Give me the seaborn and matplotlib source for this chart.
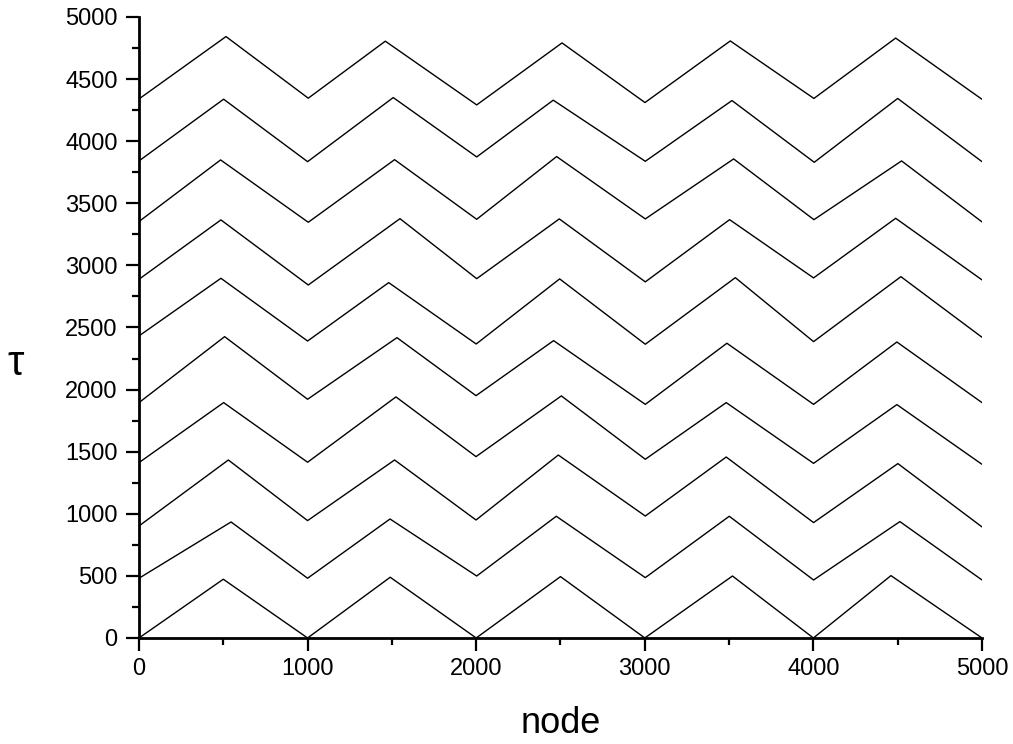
import numpy as np
import pandas as pd
import seaborn as sns
import matplotlib.pyplot as plt
from matplotlib.ticker import MultipleLocator

# vertices of each zigzag curve (node, tau), bottom curve first
node_0 = [0, 500, 1000, 1490, 2000, 2500, 3000, 3520, 4000, 4460, 5000]
tau_0 = [0, 473, 0, 489, 0, 494, 0, 499, 0, 502, 0]
node_1 = [0, 546, 1000, 1489, 2003, 2475, 3003, 3501, 4001, 4513, 5000]
tau_1 = [481, 934, 481, 958, 499, 980, 486, 980, 467, 937, 467]
node_2 = [0, 530, 1000, 1516, 1999, 2487, 3003, 3483, 4001, 4501, 5000]
tau_2 = [902, 1433, 945, 1433, 950, 1473, 982, 1457, 929, 1404, 894]
node_3 = [0, 502, 1000, 1524, 1999, 2505, 3003, 3483, 4001, 4495, 5000]
tau_3 = [1412, 1895, 1415, 1941, 1460, 1949, 1439, 1895, 1406, 1879, 1398]
node_4 = [0, 508, 1000, 1530, 1999, 2459, 3003, 3487, 4001, 4495, 5000]
tau_4 = [1895, 2426, 1922, 2418, 1951, 2394, 1881, 2373, 1881, 2383, 1895]
node_5 = [0, 486, 1000, 1481, 2000, 2495, 3003, 3537, 4001, 4519, 5000]
tau_5 = [2432, 2896, 2391, 2861, 2367, 2891, 2365, 2901, 2386, 2909, 2421]
node_6 = [0, 486, 1004, 1548, 2003, 2493, 3003, 3503, 4001, 4488, 5000]
tau_6 = [2888, 3366, 2842, 3376, 2893, 3374, 2867, 3368, 2899, 3379, 2883]
node_7 = [0, 484, 1004, 1516, 2003, 2477, 3003, 3527, 4003, 4523, 5000]
tau_7 = [3353, 3849, 3347, 3851, 3371, 3876, 3374, 3857, 3368, 3841, 3350]
node_8 = [0, 502, 1000, 1508, 2003, 2457, 3003, 3517, 4005, 4500, 5000]
tau_8 = [3841, 4338, 3835, 4351, 3873, 4330, 3838, 4327, 3830, 4344, 3835]
node_9 = [0, 516, 1004, 1461, 2003, 2509, 3001, 3507, 4003, 4488, 5000]
tau_9 = [4340, 4842, 4346, 4805, 4292, 4791, 4311, 4807, 4344, 4830, 4337]

nodes = [node_0, node_1, node_2, node_3, node_4, node_5, node_6, node_7, node_8, node_9]
taus = [tau_0, tau_1, tau_2, tau_3, tau_4, tau_5, tau_6, tau_7, tau_8, tau_9]

frames = []
for i, (n, t) in enumerate(zip(nodes, taus)):
    frames.append(pd.DataFrame({'node': n, 'tau': t, 'curve': i}))
df = pd.concat(frames, ignore_index=True)

sns.set_style('ticks')
plt.rcParams['font.family'] = ['Liberation Sans', 'DejaVu Sans']
plt.rcParams['text.color'] = 'black'
plt.rcParams['axes.labelcolor'] = 'black'

fig = plt.figure(figsize=(10.13, 7.44), dpi=100)
ax = fig.add_axes([0.1372, 0.1425, 0.8322, 0.8347])

sns.lineplot(data=df, x='node', y='tau', units='curve', estimator=None,
             color='black', linewidth=1.0, sort=False, ax=ax)

ax.set_xlim(0, 5000)
ax.set_ylim(0, 5000)
ax.xaxis.set_major_locator(MultipleLocator(1000))
ax.xaxis.set_minor_locator(MultipleLocator(500))
ax.yaxis.set_major_locator(MultipleLocator(500))
ax.yaxis.set_minor_locator(MultipleLocator(250))

for side in ['top', 'right']:
    ax.spines[side].set_visible(False)
for side in ['left', 'bottom']:
    ax.spines[side].set_linewidth(2)
    ax.spines[side].set_color('black')

ax.tick_params(which='major', direction='out', length=9.4, width=1.6, labelsize=17, colors='black')
ax.tick_params(axis='x', which='major', pad=5)
ax.tick_params(axis='y', which='major', pad=6)
ax.tick_params(which='minor', direction='out', length=5, width=1.6, colors='black')

ax.set_xlabel('node', fontsize=26, va='bottom')
ax.xaxis.set_label_coords(0.5, -0.1655)
ax.set_ylabel('τ', fontsize=30, rotation=0, ha='center', va='baseline')
ax.yaxis.set_label_coords(-0.146, 0.4235)

fig.savefig('out.png', dpi=100)
